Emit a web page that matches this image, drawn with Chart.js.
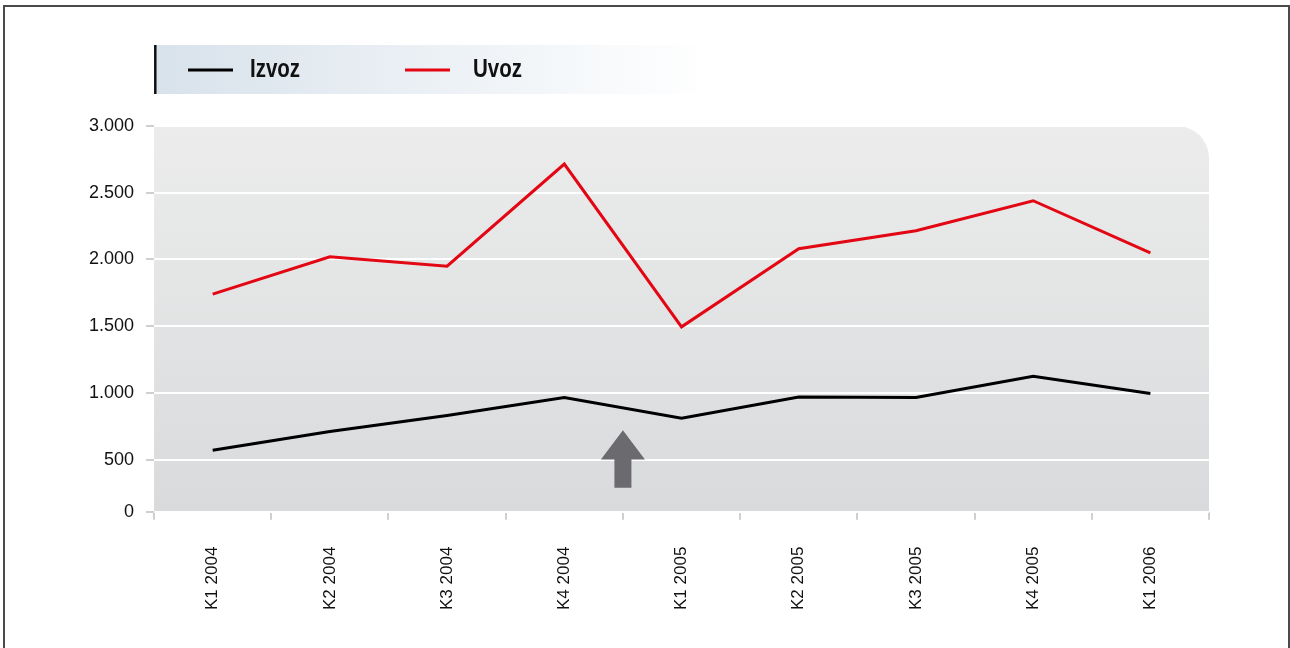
<!DOCTYPE html>
<html>
<head>
<meta charset="utf-8">
<script src="https://cdn.jsdelivr.net/npm/chart.js@4.4.1/dist/chart.umd.min.js"></script>
<style>
  html, body { margin: 0; padding: 0; background: #fff; }
  #wrap { width: 1290px; height: 648px; }
</style>
</head>
<body>
<div id="wrap"><canvas id="grafikon" width="1290" height="648"></canvas></div>
<script>
const kvartali = ["K1 2004", "K2 2004", "K3 2004", "K4 2004", "K1 2005", "K2 2005", "K3 2005", "K4 2005", "K1 2006"];
const izvoz = [570, 710, 830, 965, 810, 970, 965, 1125, 995];
const uvoz = [1740, 2020, 1950, 2715, 1495, 2080, 2215, 2440, 2050];
// the original axis is cut: the "0" label sits at about 110
const yVrijednosti = [110, 500, 1000, 1500, 2000, 2500, 3000];
const yOznake = ["0", "500", "1.000", "1.500", "2.000", "2.500", "3.000"];

// background, frame, legend box and arrow
const ukrasi = {
  id: "ukrasi",
  beforeDraw(chart) {
    const ctx = chart.ctx;
    const a = chart.chartArea;
    ctx.save();
    // frame
    ctx.strokeStyle = "#4a4a4a";
    ctx.lineWidth = 2;
    ctx.beginPath();
    ctx.moveTo(4, 660);
    ctx.lineTo(4, 6);
    ctx.lineTo(1289, 6);
    ctx.lineTo(1289, 660);
    ctx.stroke();

    // plot background with rounded top-right corner
    const g = ctx.createLinearGradient(0, a.top, 0, a.bottom);
    g.addColorStop(0, "#ebeceb");
    g.addColorStop(1, "#d9dadc");
    const r = 32;
    ctx.fillStyle = g;
    ctx.beginPath();
    ctx.moveTo(a.left, a.top);
    ctx.lineTo(a.right - r, a.top);
    ctx.arcTo(a.right, a.top, a.right, a.top + r, r);
    ctx.lineTo(a.right, a.bottom);
    ctx.lineTo(a.left, a.bottom);
    ctx.closePath();
    ctx.fill();

    // legend
    const lx = a.left, ly = 45, lw = 558, lh = 49;
    const lg = ctx.createLinearGradient(lx, 0, lx + lw, 0);
    lg.addColorStop(0, "#d8e2eb");
    lg.addColorStop(1, "#ffffff");
    ctx.fillStyle = lg;
    ctx.fillRect(lx, ly, lw, lh);
    ctx.fillStyle = "#111";
    ctx.fillRect(lx, ly, 2.5, lh);
    const pozicije = [188, 405];
    ctx.textBaseline = "middle";
    chart.data.datasets.forEach((ds, i) => {
      const x = pozicije[i];
      ctx.strokeStyle = ds.borderColor;
      ctx.lineWidth = 3;
      ctx.beginPath();
      ctx.moveTo(x, 70);
      ctx.lineTo(x + 45, 70);
      ctx.stroke();
      // condensed bold text
      ctx.save();
      ctx.translate(x + (i === 0 ? 62 : 68), 70);
      ctx.scale(0.82, 1);
      ctx.font = 'bold 25px "Liberation Sans", Arial, sans-serif';
      ctx.fillStyle = "#111";
      ctx.fillText(ds.label, 0, 0);
      ctx.restore();
    });
    ctx.restore();
  },
  afterDatasetsDraw(chart) {
    // arrow between K4 2004 and K1 2005
    const ctx = chart.ctx;
    const x = chart.scales.x.getPixelForValue(3.5);
    const y = chart.scales.y;
    const vrh = y.getPixelForValue(720);
    const baza = y.getPixelForValue(500);
    const dno = y.getPixelForValue(290);
    ctx.save();
    ctx.fillStyle = "#6b6a6e";
    ctx.beginPath();
    ctx.moveTo(x, vrh);
    ctx.lineTo(x + 22, baza);
    ctx.lineTo(x + 8.5, baza);
    ctx.lineTo(x + 8.5, dno);
    ctx.lineTo(x - 8.5, dno);
    ctx.lineTo(x - 8.5, baza);
    ctx.lineTo(x - 22, baza);
    ctx.closePath();
    ctx.fill();
    ctx.restore();
  }
};

new Chart(document.getElementById("grafikon"), {
  type: "line",
  data: {
    labels: kvartali,
    datasets: [
      { label: "Izvoz", data: izvoz, borderColor: "#000000", borderWidth: 3, pointRadius: 0, tension: 0 },
      { label: "Uvoz", data: uvoz, borderColor: "#e30613", borderWidth: 3, pointRadius: 0, tension: 0 }
    ]
  },
  options: {
    responsive: false,
    animation: false,
    layout: { padding: { top: 126, right: 81, bottom: 11, left: 77 } },
    plugins: {
      legend: { display: false },
      tooltip: { enabled: false }
    },
    scales: {
      x: {
        offset: true,
        border: { display: false },
        grid: { drawOnChartArea: false, offset: true, tickLength: 8, tickColor: "#cfcfcf", lineWidth: 2 },
        ticks: {
          minRotation: 90,
          maxRotation: 90,
          padding: 27,
          color: "#111",
          font: { family: '"Liberation Sans", Arial, sans-serif', size: 17 }
        }
      },
      y: {
        min: yVrijednosti[0],
        max: yVrijednosti[yVrijednosti.length - 1],
        border: { display: false },
        afterBuildTicks(axis) {
          axis.ticks = yVrijednosti.map(v => ({ value: v }));
        },
        grid: { color: "#ffffff", lineWidth: 2, tickLength: 8, tickColor: "#cfcfcf" },
        ticks: {
          padding: 12,
          color: "#111",
          font: { family: '"Liberation Sans", Arial, sans-serif', size: 18 },
          callback: function (value) {
            const i = yVrijednosti.indexOf(value);
            return i >= 0 ? yOznake[i] : "";
          }
        }
      }
    }
  },
  plugins: [ukrasi]
});
</script>
</body>
</html>
